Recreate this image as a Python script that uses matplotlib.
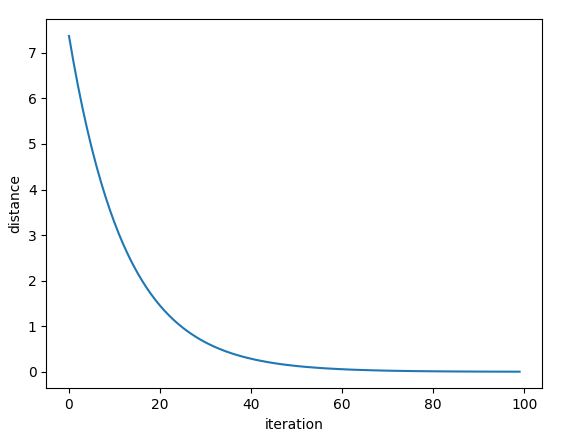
import matplotlib
matplotlib.use("Agg")
import matplotlib.pyplot as plt

# distance per iteration
iteration = list(range(100))
distance = [
    7.370, 6.795, 6.265, 5.776, 5.326, 4.910, 4.527, 4.174, 3.849, 3.548,
    3.272, 3.016, 2.781, 2.564, 2.364, 2.180, 2.010, 1.853, 1.708, 1.575,
    1.452, 1.339, 1.235, 1.138, 1.050, 0.968, 0.892, 0.823, 0.759, 0.699,
    0.645, 0.595, 0.548, 0.506, 0.466, 0.430, 0.396, 0.366, 0.337, 0.311,
    0.287, 0.264, 0.244, 0.225, 0.207, 0.191, 0.176, 0.162, 0.150, 0.138,
    0.127, 0.117, 0.108, 0.100, 0.092, 0.085, 0.078, 0.072, 0.067, 0.061,
    0.057, 0.052, 0.048, 0.044, 0.041, 0.038, 0.035, 0.032, 0.030, 0.027,
    0.025, 0.023, 0.021, 0.020, 0.018, 0.017, 0.015, 0.014, 0.013, 0.012,
    0.011, 0.010, 0.0094, 0.0087, 0.0080, 0.0074, 0.0068, 0.0063, 0.0058, 0.0053,
    0.0049, 0.0045, 0.0042, 0.0039, 0.0036, 0.0033, 0.0030, 0.0028, 0.0026, 0.0024,
]

fig, ax = plt.subplots(figsize=(5.88, 4.36), dpi=100)
fig.subplots_adjust(left=0.079, right=0.922, bottom=0.109, top=0.956)
ax.plot(iteration, distance, color="#1f77b4")
ax.set_xlabel("iteration")
ax.set_ylabel("distance")
fig.savefig("out.png", dpi=100)
